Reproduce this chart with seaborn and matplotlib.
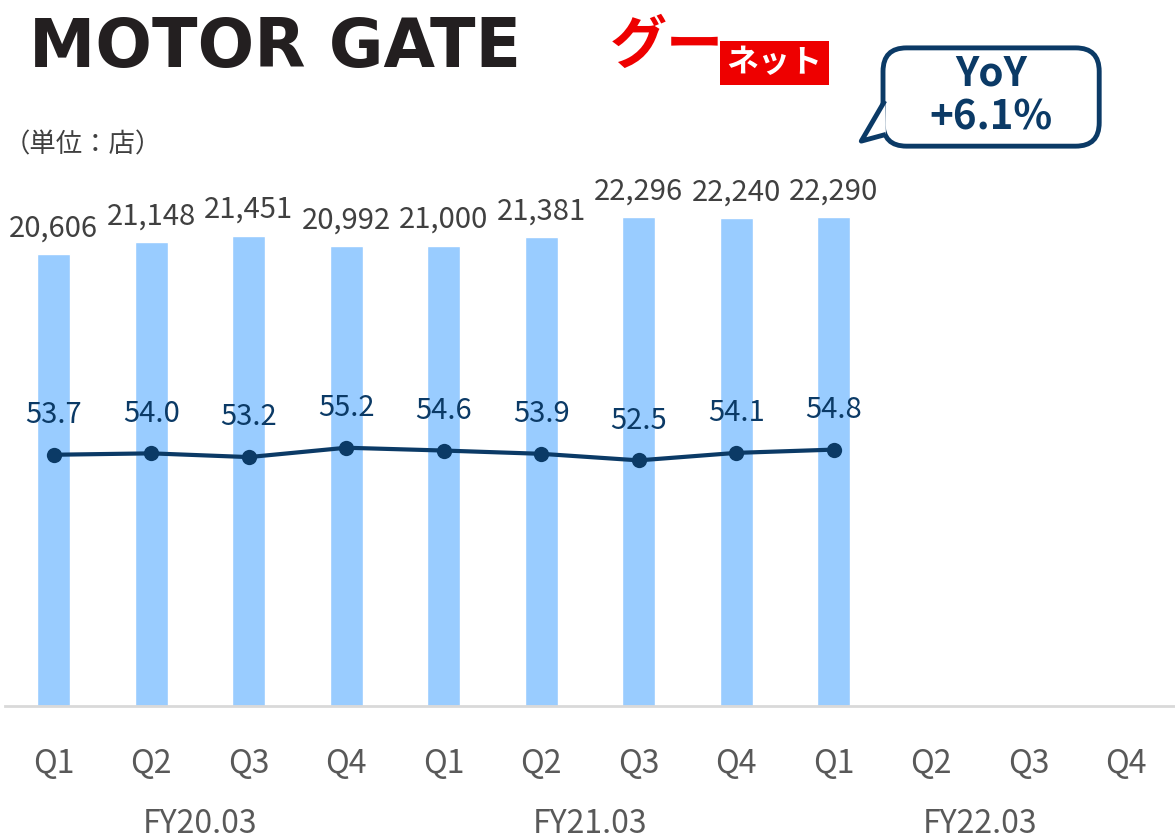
import numpy as np
import pandas as pd
import matplotlib
matplotlib.use("Agg")
import matplotlib.pyplot as plt
from matplotlib.patches import FancyBboxPatch, Polygon
import seaborn as sns

# ---- data ----
quarters = ["Q1", "Q2", "Q3", "Q4", "Q1", "Q2", "Q3", "Q4", "Q1", "Q2", "Q3", "Q4"]
fiscal_years = ["FY20.03", "FY21.03", "FY22.03"]
stores = [20606, 21148, 21451, 20992, 21000, 21381, 22296, 22240, 22290,
          np.nan, np.nan, np.nan]
ratio = [53.7, 54.0, 53.2, 55.2, 54.6, 53.9, 52.5, 54.1, 54.8,
         np.nan, np.nan, np.nan]
unit_label = "（単位：店）"
yoy_text = "YoY\n+6.1%"

sns.set_theme(style="white")
plt.rcParams["font.family"] = ["Noto Sans CJK JP", "DejaVu Sans"]

keys = [f"{fiscal_years[i // 4]}-{q}" for i, q in enumerate(quarters)]
df = pd.DataFrame({"key": keys, "stores": stores, "ratio": ratio,
                   "pos": np.arange(len(keys))})

fig = plt.figure(figsize=(11.75, 8.4), dpi=100)
ax = fig.add_axes([0.0043, 0.1595, 0.9957, 0.6857])

BAR = "#99CCFF"
NAVY = "#0B3A66"
GREY = "#404040"

sns.barplot(data=df, x="key", y="stores", order=keys, color=BAR,
            width=0.34, ax=ax, saturation=1)
ax.set_xlim(-0.5, 11.5)
ax.set_ylim(0, 26266)

for i, v in enumerate(stores):
    if not np.isnan(v):
        ax.text(i, v + 480, f"{int(v):,}", ha="center", va="bottom",
                fontsize=21, color=GREY)

ax2 = ax.twinx()
sns.lineplot(data=df.dropna(), x="pos", y="ratio", ax=ax2, color=NAVY,
             linewidth=3, marker="o", markersize=11, markeredgewidth=0)
ax2.set_ylim(0, 123.1)
ax2.set_xlim(-0.5, 11.5)
for i, v in enumerate(ratio):
    if not np.isnan(v):
        ax2.text(i, v + 5.3, f"{v:.1f}", ha="center", va="bottom",
                 fontsize=21, color=NAVY)

for a in (ax, ax2):
    a.set_xlabel("")
    a.set_ylabel("")
    a.set_yticks([])
    for s in a.spines.values():
        s.set_visible(False)
ax2.set_xticks([])
ax.spines["bottom"].set_visible(True)
ax.spines["bottom"].set_color("#D9D9D9")
ax.spines["bottom"].set_linewidth(2)
ax.set_xticks(range(len(keys)))
ax.set_xticklabels(quarters, fontsize=23, color="#595959")
ax.tick_params(axis="x", length=0, pad=30)

for j, fy in enumerate(fiscal_years):
    ax.text(4 * j + 1.5, -0.205, fy, transform=ax.get_xaxis_transform(),
            ha="center", va="center", fontsize=23, color="#595959")

# unit label
fig.text(0.003, 0.827, unit_label, fontsize=19, color=GREY, va="center")

# MOTOR GATE logo text
fig.text(0.025, 0.943, "MOTOR GATE", fontsize=48, fontweight="heavy",
         color="#231F20", va="center", family=["DejaVu Sans"])

# Goo-net logo
fig.text(0.519, 0.945, "グー", fontsize=41, fontweight="bold", style="italic",
         color="#EE0000", va="center")
fig.text(0.659, 0.925, "ネット", fontsize=23, fontweight="bold", color="white",
         va="center", ha="center",
         bbox=dict(boxstyle="square,pad=0.2", fc="#EE0000", ec="none"))

# YoY callout
box = FancyBboxPatch((0.7515, 0.826), 0.184, 0.117,
                     boxstyle="round,pad=0,rounding_size=0.02",
                     transform=fig.transFigure, fc="white", ec=NAVY, lw=3.5,
                     mutation_aspect=1175 / 840)
fig.patches.append(box)
tail = Polygon([[0.7530, 0.880], [0.7330, 0.832], [0.7540, 0.840]],
               closed=False, transform=fig.transFigure, fc="white", ec=NAVY,
               lw=3.5, joinstyle="round")
fig.patches.append(tail)
fig.text(0.8435, 0.886, yoy_text, fontsize=29, fontweight="bold", color=NAVY,
         ha="center", va="center", linespacing=1.1)

fig.savefig("out.png", dpi=100)
